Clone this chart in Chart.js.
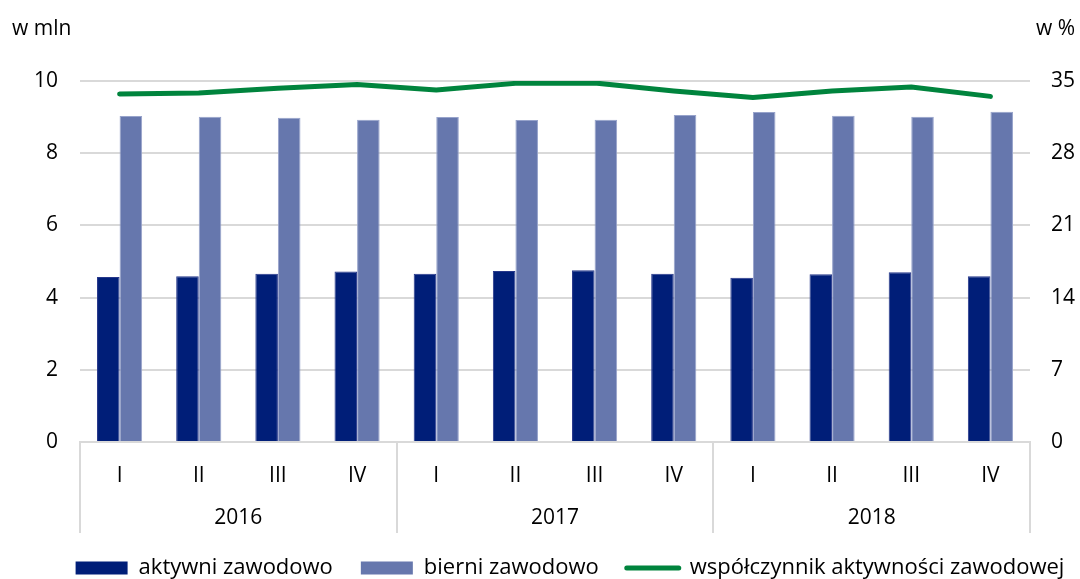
<!DOCTYPE html>
<html>
<head>
<meta charset="utf-8">
<script src="https://cdn.jsdelivr.net/npm/chart.js@4/dist/chart.umd.min.js"></script>
<style>
  html, body { margin: 0; padding: 0; background: #fff; }
  #wrap { width: 1080px; height: 579px; }
</style>
</head>
<body>
<div id="wrap"><canvas id="chart" width="1080" height="579"></canvas></div>
<script>
const quarters = ["I", "II", "III", "IV", "I", "II", "III", "IV", "I", "II", "III", "IV"];
const years = ["2016", "2017", "2018"];

const aktywni = [4.57, 4.59, 4.66, 4.72, 4.66, 4.74, 4.76, 4.66, 4.55, 4.65, 4.70, 4.59];
const bierni = [9.03, 9.01, 8.98, 8.93, 9.00, 8.92, 8.93, 9.06, 9.14, 9.04, 9.01, 9.15];
const wspolczynnik = [33.74, 33.84, 34.29, 34.67, 34.13, 34.77, 34.81, 34.03, 33.39, 34.03, 34.42, 33.51];

const leftTicks = [0, 2, 4, 6, 8, 10];
const rightTicks = [0, 7, 14, 21, 28, 35];

const leftUnit = "w mln";
const rightUnit = "w %";

const FONT = "'Open Sans', sans-serif";
const GRID = "#d9d9d9";

const DARK = "#001e78";
const LIGHT = "#6677ad";
const GREEN = "#00843d";

// year separators, unit labels, and legend placement
const extrasPlugin = {
  id: "extras",
  beforeLayout(chart) {
    const legend = chart.legend;
    if (legend && !legend._fixedFit) {
      const fit = legend.fit.bind(legend);
      legend.fit = function () {
        fit();
        this.height = 44;
      };
      legend._fixedFit = true;
    }
  },
  afterLayout(chart) {
    const legend = chart.legend;
    if (!legend) return;
    legend.top = 529;
    legend.bottom = 582;
    legend.left += 30;
    legend.right += 30;
  },
  afterDraw(chart) {
    const ctx = chart.ctx;
    const x = chart.scales.x;
    const x2 = chart.scales.x2;
    ctx.save();
    ctx.strokeStyle = GRID;
    ctx.lineWidth = 2;
    for (let i = 0; i <= quarters.length; i += 4) {
      const px = Math.round(x.getPixelForValue(i - 0.5));
      ctx.beginPath();
      ctx.moveTo(px, x.top);
      ctx.lineTo(px, x2.bottom - 2);
      ctx.stroke();
    }
    ctx.fillStyle = "#000";
    ctx.font = "21px " + FONT;
    ctx.textBaseline = "alphabetic";
    ctx.textAlign = "left";
    ctx.fillText(leftUnit, 12, 35);
    ctx.textAlign = "right";
    ctx.fillText(rightUnit, 1075, 35);
    ctx.restore();
  },
};

const ctx = document.getElementById("chart").getContext("2d");
const chart = new Chart(ctx, {
  type: "bar",
  data: {
    labels: quarters,
    datasets: [
      {
        type: "line",
        label: "współczynnik aktywności zawodowej",
        data: wspolczynnik,
        yAxisID: "y1",
        borderColor: GREEN,
        backgroundColor: GREEN,
        borderWidth: 5,
        borderCapStyle: "round",
        borderJoinStyle: "round",
        pointRadius: 0,
        tension: 0,
        order: 0,
      },
      {
        label: "aktywni zawodowo",
        data: aktywni,
        yAxisID: "y",
        backgroundColor: DARK,
        borderColor: "#26378a",
        borderWidth: 1,
        order: 1,
      },
      {
        label: "bierni zawodowo",
        data: bierni,
        yAxisID: "y",
        backgroundColor: LIGHT,
        borderColor: "#97a3cb",
        borderWidth: 1,
        order: 2,
      },
    ],
  },
  options: {
    responsive: false,
    animation: false,
    devicePixelRatio: 1,
    layout: {
      padding: { top: 81, left: 0, right: 0, bottom: 0 },
    },
    datasets: {
      bar: {
        barPercentage: 1,
        categoryPercentage: 0.57,
      },
    },
    scales: {
      x: {
        position: "bottom",
        offset: true,
        grid: { display: false, drawTicks: false },
        border: { display: true, color: GRID, width: 2 },
        ticks: {
          color: "#000",
          font: { family: FONT, size: 21 },
          padding: 21,
        },
        afterFit(scale) {
          scale.height = 46;
        },
      },
      x2: {
        type: "category",
        position: "bottom",
        labels: years,
        offset: true,
        grid: { display: false, drawTicks: false },
        border: { display: false },
        ticks: {
          color: "#000",
          font: { family: FONT, size: 21 },
          padding: 17,
        },
        afterFit(scale) {
          scale.height = 47;
        },
      },
      y: {
        position: "left",
        min: 0,
        max: 10,
        afterBuildTicks(scale) {
          scale.ticks = leftTicks.map((v) => ({ value: v }));
        },
        grid: { color: GRID, lineWidth: 2, drawTicks: false },
        border: { display: false },
        ticks: {
          color: "#000",
          font: { family: FONT, size: 21 },
          padding: 22,
        },
        afterFit(scale) {
          scale.width = 80;
        },
      },
      y1: {
        position: "right",
        min: 0,
        max: 35,
        afterBuildTicks(scale) {
          scale.ticks = rightTicks.map((v) => ({ value: v }));
        },
        grid: { display: false, drawTicks: false },
        border: { display: false },
        ticks: {
          color: "#000",
          font: { family: FONT, size: 21 },
          padding: 21,
        },
        afterFit(scale) {
          scale.width = 50;
        },
      },
    },
    plugins: {
      tooltip: { enabled: false },
      legend: {
        position: "bottom",
        labels: {
          color: "#000",
          font: { family: FONT, size: 22 },
          boxWidth: 52,
          boxHeight: 13,
          padding: 28,
          usePointStyle: true,
          pointStyleWidth: 52,
          generateLabels(chart) {
            const ds = chart.data.datasets;
            return [
              { text: ds[1].label, fillStyle: DARK, strokeStyle: DARK, lineWidth: 0, pointStyle: "rect", datasetIndex: 1, hidden: false },
              { text: ds[2].label, fillStyle: LIGHT, strokeStyle: LIGHT, lineWidth: 0, pointStyle: "rect", datasetIndex: 2, hidden: false },
              { text: ds[0].label, fillStyle: GREEN, strokeStyle: GREEN, lineWidth: 5, lineCap: "round", pointStyle: "line", datasetIndex: 0, hidden: false },
            ];
          },
        },
      },
    },
  },
  plugins: [extrasPlugin],
});
</script>
</body>
</html>
